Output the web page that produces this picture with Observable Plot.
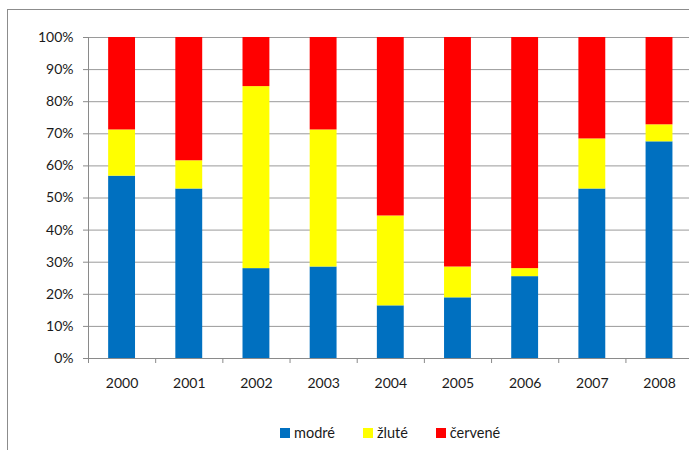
<!DOCTYPE html>
<html>
<head>
<meta charset="utf-8">
<script src="https://cdn.jsdelivr.net/npm/d3@7"></script>
<script src="https://cdn.jsdelivr.net/npm/@observablehq/plot@0.6"></script>
<style>
  html, body { margin: 0; padding: 0; background: #fff; width: 689px; height: 450px; overflow: hidden; }
  #frame { position: absolute; left: 7px; top: 9px; width: 800px; height: 800px; border: 1px solid #8c8c8c; box-sizing: border-box; }
  #chart { position: absolute; left: 0; top: 0; }
  #legend { position: absolute; left: 280px; top: 424px; display: flex; gap: 28px; font-family: Lato, sans-serif; font-size: 14.5px; color: #1a1a1a; }
  #legend .item { display: flex; align-items: center; gap: 4px; }
  #legend .sw { width: 10px; height: 10px; display: inline-block; }
</style>
</head>
<body>
<div id="frame"></div>
<div id="chart"></div>
<div id="legend"></div>
<script>
const years = [2000, 2001, 2002, 2003, 2004, 2005, 2006, 2007, 2008];
const modre   = [56.8, 52.8, 28.0, 28.5, 16.4, 18.9, 25.5, 52.8, 67.5];
const zlute   = [14.4,  8.8, 56.7, 42.7, 28.0,  9.6,  2.5, 15.6,  5.3];
const cervene = [28.8, 38.4, 15.3, 28.8, 55.6, 71.5, 72.0, 31.6, 27.2];
const seriesNames = ["modré", "žluté", "červené"];
const seriesColors = ["#0070C0", "#FFFF00", "#FF0000"];
const yTicks = [0, 10, 20, 30, 40, 50, 60, 70, 80, 90, 100];

const seriesValues = [modre, zlute, cervene];
const rows = [];
years.forEach((yr, i) => {
  let base = 0;
  seriesValues.forEach((vals, s) => {
    rows.push({year: yr, series: seriesNames[s], y1: base, y2: base + vals[i]});
    base += vals[i];
  });
});
const boundaries = [...years.map(y => y - 0.5), years[years.length - 1] + 0.5];

const chart = Plot.plot({
  width: 689,
  height: 410,
  marginLeft: 88,
  marginRight: 0,
  marginTop: 37,
  marginBottom: 52,
  style: {fontFamily: "Lato, sans-serif", fontSize: "14px", color: "#1a1a1a", background: "transparent"},
  x: {domain: [1999.5, 2008.5], range: [88, 692.6]},
  y: {domain: [0, 100]},
  color: {domain: seriesNames, range: seriesColors},
  marks: [
    Plot.gridY(yTicks, {stroke: "#9a9a9a", strokeOpacity: 1}),
    Plot.rect(rows, {x1: d => d.year - 0.2, x2: d => d.year + 0.2, y1: "y1", y2: "y2", fill: "series"}),
    Plot.ruleX([1999.5], {stroke: "#8a8a8a"}),
    Plot.ruleY([0], {stroke: "#8a8a8a"}),
    Plot.axisY(yTicks, {tickFormat: d => d + "%", tickSize: 5, tickPadding: 10, stroke: "#8a8a8a", label: null}),
    Plot.axisX(boundaries, {tickFormat: () => "", tickSize: 5, stroke: "#8a8a8a", label: null}),
    Plot.axisX(years, {tickFormat: d => String(d), tickSize: 0, tickPadding: 20, label: null})
  ]
});
document.getElementById("chart").appendChild(chart);

const legend = document.getElementById("legend");
seriesNames.forEach((n, i) => {
  const it = document.createElement("div");
  it.className = "item";
  const sw = document.createElement("span");
  sw.className = "sw";
  sw.style.background = seriesColors[i];
  const lab = document.createElement("span");
  lab.textContent = n;
  it.appendChild(sw);
  it.appendChild(lab);
  legend.appendChild(it);
});
</script>
</body>
</html>
